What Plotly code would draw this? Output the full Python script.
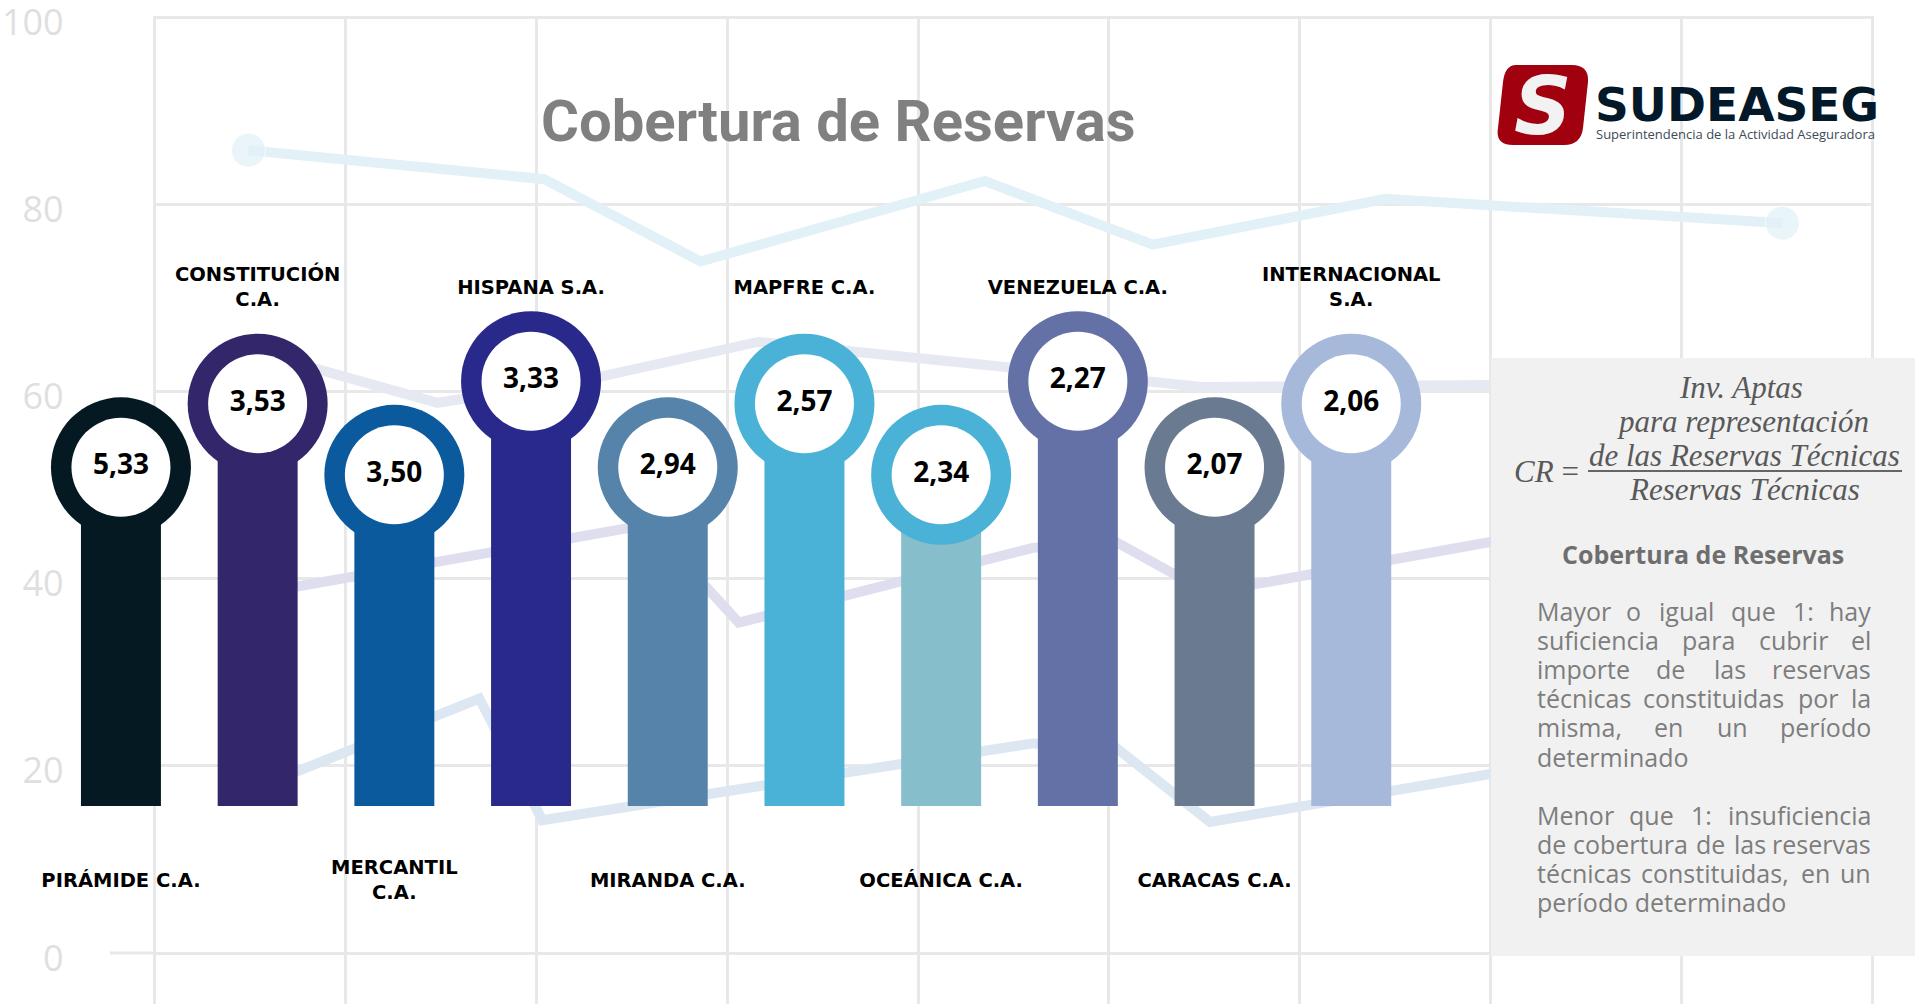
import plotly.graph_objects as go

# ------------------------------------------------------------------ data
companies = ["PIRÁMIDE C.A.", "CONSTITUCIÓN C.A.", "MERCANTIL C.A.", "HISPANA S.A.",
             "MIRANDA C.A.", "MAPFRE C.A.", "OCEÁNICA C.A.", "VENEZUELA C.A.",
             "CARACAS C.A.", "INTERNACIONAL S.A."]
company_labels = ["PIRÁMIDE C.A.", "CONSTITUCIÓN<br>C.A.", "MERCANTIL<br>C.A.", "HISPANA S.A.",
                  "MIRANDA C.A.", "MAPFRE C.A.", "OCEÁNICA C.A.", "VENEZUELA C.A.",
                  "CARACAS C.A.", "INTERNACIONAL<br>S.A."]
coverage = [5.33, 3.53, 3.50, 3.33, 2.94, 2.57, 2.34, 2.27, 2.07, 2.06]

# decorative background line chart (faded)
bg_ticks = [0, 20, 40, 60, 80, 100]
bg_a_x = [0.49, 2.04, 2.86, 4.35, 5.23, 6.45, 8.53]
bg_a_y = [85.8, 82.7, 73.9, 82.5, 75.7, 80.6, 78.0]
bg_b_x = [0.59, 1.48, 2.27, 3.16, 5.49, 5.94, 6.99, 7.6]
bg_b_y = [63.9, 58.8, 61.3, 65.3, 60.5, 60.5, 60.7, 61.0]
bg_c_x = [0.42, 1.70, 2.59, 3.06, 4.60, 5.04, 5.52, 6.99, 7.6]
bg_c_y = [38.0, 42.7, 45.8, 35.3, 43.3, 43.9, 38.5, 43.9, 45.0]
bg_d_x = [0.50, 1.70, 2.03, 2.85, 4.60, 5.04, 5.53, 6.99, 7.6]
bg_d_y = [17.4, 27.2, 14.2, 16.8, 22.4, 21.9, 14.0, 19.1, 20.0]

# ------------------------------------------------------------------ styles
W, H = 1915, 1004
bar_colors = ["#041922", "#33266b", "#0b5a9d", "#29298b", "#5683a9",
              "#4ab2d6", "#86bfcb", "#6371a6", "#6a7a91", "#a6b9db"]
ring_colors = ["#041922", "#33266b", "#0b5a9d", "#29298b", "#5683a9",
               "#4ab2d6", "#4ab2d6", "#6371a6", "#6a7a91", "#a6b9db"]
GRID = "#e8e8e8"

# pillar layout: staggered heights (low / high tiers)
PILLAR_BASE = 15.7
TIERS = [51.9, 58.7, 51.1, 61.1]
ABOVE_Y, BELOW_Y = 71.0, 7.6
tops = [TIERS[i % 4] for i in range(len(companies))]
label_y = [BELOW_Y if i % 2 == 0 else ABOVE_Y for i in range(len(companies))]
value_labels = [f"{v:.2f}".replace(".", ",") for v in coverage]

YRANGE = [-5.45, 100.13]
YDOM = [0, 0.984]


def px(x):
    return x / W


def py(y):
    return 1 - y / H


fig = go.Figure()

# background faded lines
for xs, ys, col in [(bg_b_x, bg_b_y, "#e7e9f2"), (bg_c_x, bg_c_y, "#dfdeef"),
                    (bg_d_x, bg_d_y, "#dde7f2")]:
    fig.add_trace(go.Scatter(x=xs, y=ys, mode="lines", line=dict(color=col, width=10),
                             hoverinfo="skip", xaxis="x", yaxis="y"))
fig.add_trace(go.Scatter(x=bg_a_x, y=bg_a_y, mode="lines+markers",
                         line=dict(color="#e2f1f7", width=10),
                         marker=dict(color="#e2f1f7",
                                     size=[34] + [0] * (len(bg_a_x) - 2) + [34]),
                         hoverinfo="skip", xaxis="x", yaxis="y"))

# pillars
fig.add_trace(go.Bar(x=companies, y=[t - PILLAR_BASE for t in tops], base=PILLAR_BASE,
                     marker=dict(color=bar_colors, line=dict(width=0)), width=0.585,
                     xaxis="x2", yaxis="y2", hoverinfo="skip"))
fig.add_trace(go.Scatter(x=companies, y=tops, mode="markers",
                         marker=dict(size=140, color=ring_colors, line=dict(width=0)),
                         xaxis="x2", yaxis="y2", cliponaxis=False, hoverinfo="skip"))
fig.add_trace(go.Scatter(x=companies, y=tops, mode="markers+text",
                         marker=dict(size=99, color="white", line=dict(width=0)),
                         text=value_labels, textposition="middle center",
                         textfont=dict(family="Open Sans", size=28, color="#000000", weight=700),
                         xaxis="x2", yaxis="y2", cliponaxis=False, hoverinfo="skip"))
fig.add_trace(go.Scatter(x=companies, y=label_y, mode="text", text=company_labels,
                         textposition="middle center",
                         textfont=dict(family="DejaVu Sans", size=19.5, color="#000000",
                                       weight=700),
                         xaxis="x2", yaxis="y2", cliponaxis=False, hoverinfo="skip"))

shapes = []
annotations = []

# 0-line extension to the left
shapes.append(dict(type="line", xref="paper", yref="y", x0=px(110), x1=px(156), y0=0, y1=0,
                   line=dict(color=GRID, width=3), layer="below"))

# title
annotations.append(dict(text="Cobertura de Reservas", x=px(838), y=py(121), xref="paper",
                        yref="paper", showarrow=False, xanchor="center", yanchor="middle",
                        font=dict(family="Roboto", size=58, color="#808080", weight=700)))

# logo (rounded slanted red tile)
def fmt(x, y):
    return f"{px(x):.5f},{py(y):.5f}"


logo_path = ("M" + fmt(1516, 65) + " L" + fmt(1572, 65) +
             " Q" + fmt(1589, 65) + " " + fmt(1588, 82) +
             " L" + fmt(1583, 128) + " Q" + fmt(1581, 145) + " " + fmt(1564, 145) +
             " L" + fmt(1513, 145) + " Q" + fmt(1495, 145) + " " + fmt(1498, 128) +
             " L" + fmt(1503, 82) + " Q" + fmt(1505, 65) + " " + fmt(1516, 65) + " Z")
shapes.append(dict(type="path", xref="paper", yref="paper", path=logo_path,
                   fillcolor="#a1000f", line=dict(width=0), layer="above"))
annotations.append(dict(text="<b><i>S</i></b>", x=px(1543), y=py(106), xref="paper", yref="paper",
                        showarrow=False, xanchor="center", yanchor="middle",
                        font=dict(family="DejaVu Sans", size=80, color="#f2f2f2")))
annotations.append(dict(text="<b>SUDEASEG</b>", x=px(1737), y=py(104), xref="paper", yref="paper",
                        showarrow=False, xanchor="center", yanchor="middle",
                        font=dict(family="DejaVu Sans", size=47, color="#03192a")))
annotations.append(dict(text="Superintendencia de la Actividad Aseguradora", x=px(1735), y=py(134),
                        xref="paper", yref="paper", showarrow=False, xanchor="center",
                        yanchor="middle",
                        font=dict(family="Open Sans", size=13, color="#3d4b57")))

# right panel
shapes.append(dict(type="rect", xref="paper", yref="paper", x0=px(1491), x1=1.0,
                   y0=py(956), y1=py(358), fillcolor="#f1f1f1", line=dict(width=0),
                   layer="above"))
ff = dict(family="Liberation Serif", size=31, color="#595959")
for txt, cx, cy in [("<i>Inv. Aptas</i>", 1741, 387),
                    ("<i>para representación</i>", 1743, 421),
                    ("<i>de las Reservas Técnicas</i>", 1744, 455),
                    ("<i>Reservas Técnicas</i>", 1744, 489),
                    ("<i>CR</i> =", 1546, 471)]:
    annotations.append(dict(text=txt, x=px(cx), y=py(cy), xref="paper", yref="paper",
                            showarrow=False, xanchor="center", yanchor="middle", font=ff))
shapes.append(dict(type="line", xref="paper", yref="paper", x0=px(1588), x1=px(1902),
                   y0=py(471), y1=py(471), line=dict(color="#666666", width=2), layer="above"))
annotations.append(dict(text="<b>Cobertura de Reservas</b>", x=px(1703), y=py(554),
                        xref="paper", yref="paper", showarrow=False, xanchor="center",
                        yanchor="middle",
                        font=dict(family="Open Sans", size=25, color="#6e6e6e")))

# justified paragraph text
OS_W = {"a": .556, "b": .613, "c": .480, "d": .613, "e": .561, "f": .336, "g": .546, "h": .613,
        "i": .258, "j": .258, "k": .530, "l": .258, "m": .932, "n": .613, "o": .600, "p": .613,
        "q": .613, "r": .409, "s": .478, "t": .353, "u": .613, "v": .499, "w": .775, "x": .520,
        "y": .499, "z": .469, "é": .561, "í": .258, "á": .556, "ó": .600, "M": .907,
        ",": .245, ":": .266, ".": .266, "1": .572}
PSIZE = 25
para_lines = [("Mayor o igual que 1: hay", True), ("suficiencia para cubrir el", True),
              ("importe de las reservas", True), ("técnicas constituidas por la", True),
              ("misma, en un período", True), ("determinado", False), ("", False),
              ("Menor que 1: insuficiencia", True), ("de cobertura de las reservas", True),
              ("técnicas constituidas, en un", True), ("período determinado", False)]
LX, RX = 1535, 1873
pfont = dict(family="Open Sans", size=PSIZE, color="#7d7d7d")
for k, (line, just) in enumerate(para_lines):
    if not line:
        continue
    yy = py(611 + 29.1 * k)
    words = line.split()
    if not just:
        annotations.append(dict(text=line, x=px(LX), y=yy, xref="paper", yref="paper",
                                showarrow=False, xanchor="left", yanchor="middle", font=pfont))
        continue
    ws = [sum(OS_W.get(ch, .55) for ch in w) * PSIZE for w in words]
    gap = (RX - LX - sum(ws)) / (len(words) - 1)
    xc = LX
    for j, w in enumerate(words):
        if j == 0:
            xa, xx = "left", LX
        elif j == len(words) - 1:
            xa, xx = "right", RX
        else:
            xa, xx = "center", xc + ws[j] / 2
        annotations.append(dict(text=w, x=px(xx), y=yy, xref="paper", yref="paper",
                                showarrow=False, xanchor=xa, yanchor="middle", font=pfont))
        xc += ws[j] + gap

hidden_axis = dict(showgrid=False, showticklabels=False, zeroline=False, showline=False,
                   ticks="", fixedrange=True, automargin=False)

fig.update_layout(
    width=W, height=H, margin=dict(l=0, r=0, t=0, b=0), autosize=False,
    paper_bgcolor="white", plot_bgcolor="rgba(0,0,0,0)", showlegend=False,
    xaxis=dict(domain=[px(152.7), px(1874.3)], range=[-0.012, 9.012], dtick=1, tick0=0,
               showgrid=True, gridcolor=GRID, gridwidth=3, showticklabels=False,
               zeroline=False, showline=False, fixedrange=True, automargin=False),
    yaxis=dict(domain=YDOM, range=YRANGE, tickvals=bg_ticks, anchor="x",
               showgrid=True, gridcolor=GRID, gridwidth=3, zeroline=False, showline=False,
               tickfont=dict(family="Open Sans", size=36, color="#dfdfdf"),
               ticklabelstandoff=88, ticklabelshift=5, ticklabeloverflow="allow",
               fixedrange=True, automargin=False),
    xaxis2=dict(domain=[px(52.6), px(1419.6)], anchor="y2", type="category",
                categoryorder="array", categoryarray=companies, range=[-0.5, 9.5],
                **hidden_axis),
    yaxis2=dict(domain=YDOM, range=YRANGE, anchor="x2", **hidden_axis),
    shapes=shapes, annotations=annotations,
)

fig.write_html("out.html", config={"displayModeBar": False},
               post_script="document.body.style.margin='0';document.body.style.overflow='hidden';")
